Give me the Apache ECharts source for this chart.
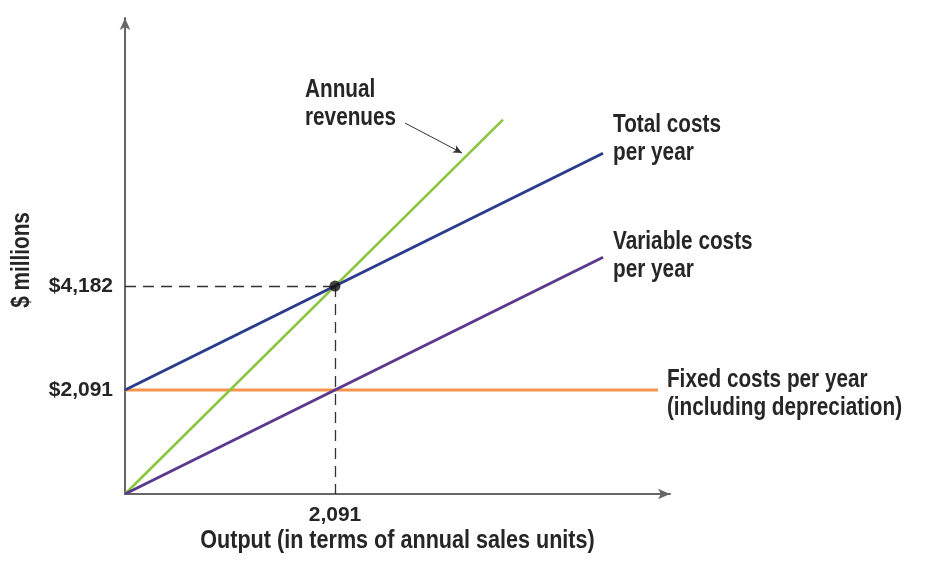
<!DOCTYPE html>
<html>
<head>
<meta charset="utf-8">
<script src="https://cdn.jsdelivr.net/npm/echarts@6/dist/echarts.min.js"></script>
<style>
  html, body { margin: 0; padding: 0; background: #fff; }
  #chart { width: 926px; height: 563px; }
</style>
</head>
<body>
<div id="chart"></div>
<script>
// Break-even: fixed costs, variable costs, total costs and revenues ($ millions)
const breakEvenUnits = 2091;
const breakEvenValue = 4182;

// Line end points [units, $ millions]
const revenueLine = [[0, 0], [3764, 7528]];
const totalCostLine = [[0, 2091], [4760, 6851]];
const variableCostLine = [[0, 0], [4760, 4760]];
const fixedCostLine = [[0, 2091], [5307, 2091]];

// Axis extents and labelled values
const xMax = 5427;
const yMax = 9571;
const xTickValues = [2091];
const yTickValues = [2091, 4182];

// Pointer from the "Annual revenues" note to its line
const revenueNoteArrow = [[2788, 7459], [3356, 6856]];

// Line captions
const totalCostText = 'Total costs\nper year';
const variableCostText = 'Variable costs\nper year';
const fixedCostText = 'Fixed costs per year\n(including depreciation)';
const revenueText = 'Annual\nrevenues';
const xTitle = 'Output (in terms of annual sales units)';
const yTitle = '$ millions';

const FONT = "'Liberation Sans', Arial, sans-serif";
const TEXT = '#262626';
const NARROW = 0.83; // horizontal squeeze for a condensed look

const chart = echarts.init(document.getElementById('chart'), null, { renderer: 'canvas' });

function lineSeries(name, data, color, width, z) {
  return {
    name, type: 'line', data, showSymbol: false, silent: true, z,
    lineStyle: { color, width, cap: 'butt' }
  };
}

const option = {
  animation: false,
  backgroundColor: '#ffffff',
  grid: { left: 125, top: 18, width: 545, height: 476, containLabel: false },
  xAxis: {
    type: 'value', min: 0, max: xMax,
    splitLine: { show: false },
    axisLine: { show: true, symbol: ['none', 'arrow'], symbolSize: [8, 12],
      lineStyle: { color: '#666', width: 2 } },
    axisTick: { show: false },
    axisLabel: {
      customValues: xTickValues, formatter: v => v.toLocaleString('en-US'),
      color: TEXT, fontFamily: FONT, fontWeight: 'bold', fontSize: 21, margin: 11
    }
  },
  yAxis: {
    type: 'value', min: 0, max: yMax,
    splitLine: { show: false },
    axisLine: { show: true, symbol: ['none', 'arrow'], symbolSize: [8, 12],
      lineStyle: { color: '#666', width: 2 } },
    axisTick: { show: false },
    axisLabel: {
      customValues: yTickValues, formatter: v => '$' + v.toLocaleString('en-US'),
      color: TEXT, fontFamily: FONT, fontWeight: 'bold', fontSize: 21, margin: 12
    }
  },
  series: [
    lineSeries('Fixed costs', fixedCostLine, '#f4944e', 3.2, 2),
    Object.assign(lineSeries('Annual revenues', revenueLine, '#8cc540', 2.6, 2), {
      markLine: {
        silent: true, symbol: ['none', 'arrow'], symbolSize: [6, 9],
        lineStyle: { color: '#333', width: 1, type: 'solid' },
        label: { show: false },
        data: [[{ coord: revenueNoteArrow[0] }, { coord: revenueNoteArrow[1] }]]
      }
    }),
    lineSeries('Variable costs', variableCostLine, '#5a3a8d', 3, 2),
    lineSeries('Total costs', totalCostLine, '#2b3c8c', 3, 2),
    {
      name: 'Break-even', type: 'scatter', silent: true, z: 5,
      data: [[breakEvenUnits, breakEvenValue]],
      symbol: 'circle', symbolSize: 11,
      itemStyle: { color: '#111' },
      markLine: {
        silent: true, symbol: 'none',
        lineStyle: { color: '#333', width: 1.3, type: [11, 7] },
        label: { show: false },
        data: [
          [{ coord: [0, breakEvenValue] }, { coord: [breakEvenUnits, breakEvenValue] }],
          [{ coord: [breakEvenUnits, breakEvenValue] }, { coord: [breakEvenUnits, 0] }]
        ]
      }
    }
  ]
};

chart.setOption(option);

// Captions placed next to the end of each line
const last = arr => arr[arr.length - 1];
const toPx = v => chart.convertToPixel({ gridIndex: 0 }, v);

function caption(text, anchor, dx, dy) {
  const p = toPx(anchor);
  return {
    type: 'text', x: p[0] + dx, y: p[1] + dy, scaleX: NARROW, z: 10,
    style: { text, fill: TEXT, font: 'bold 25px ' + FONT, lineHeight: 28,
      align: 'left', verticalAlign: 'middle' }
  };
}

const totalEnd = last(totalCostLine);
const variableEnd = last(variableCostLine);
const fixedEnd = last(fixedCostLine);
const noteStart = revenueNoteArrow[0];

chart.setOption({
  graphic: [
    caption(totalCostText, totalEnd, 10, -14),
    caption(variableCostText, variableEnd, 10, -1),
    caption(fixedCostText, fixedEnd, 9, 4),
    caption(revenueText, noteStart, -100, -19),
    {
      type: 'text', x: toPx([xMax / 2, 0])[0], y: 541, scaleX: NARROW,
      style: { text: xTitle, fill: TEXT, font: 'bold 26px ' + FONT,
        align: 'center', verticalAlign: 'middle' }
    },
    {
      type: 'text', x: 22, y: 260, rotation: Math.PI / 2, scaleX: NARROW,
      style: { text: yTitle, fill: TEXT, font: 'bold 25px ' + FONT,
        align: 'center', verticalAlign: 'middle' }
    }
  ]
});
</script>
</body>
</html>
